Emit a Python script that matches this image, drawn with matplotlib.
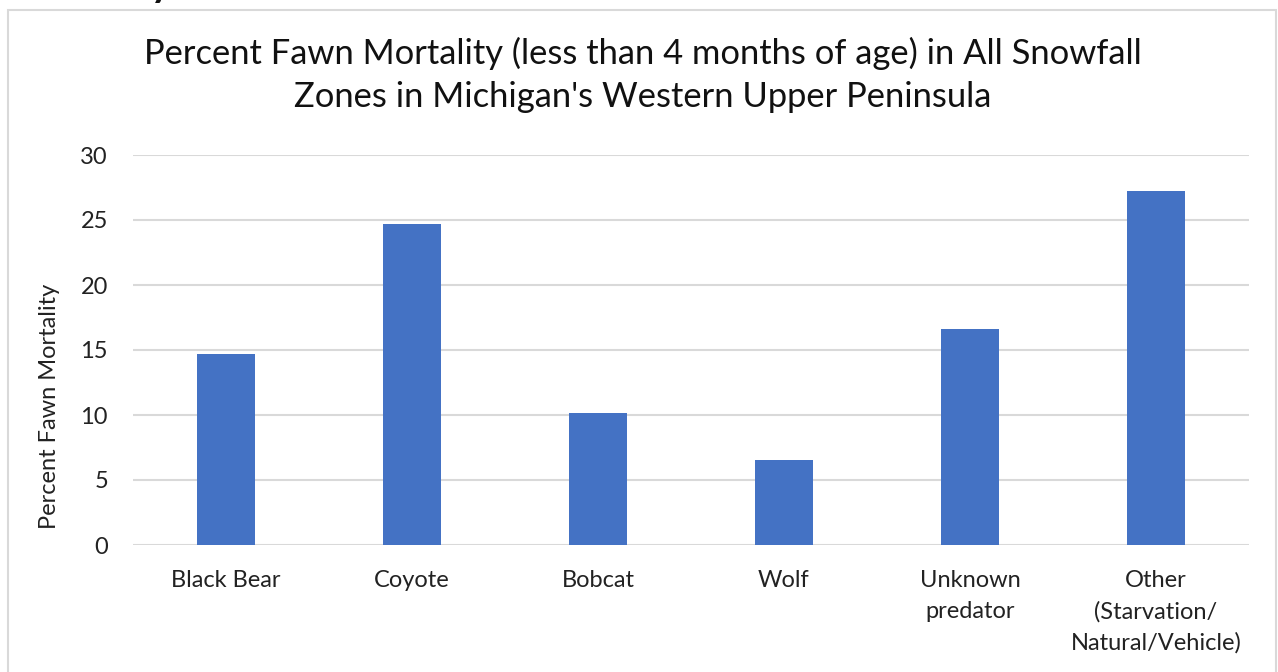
import matplotlib
matplotlib.use("Agg")
import matplotlib.pyplot as plt
from matplotlib.patches import Rectangle

categories = ["Black Bear", "Coyote", "Bobcat", "Wolf", "Unknown\npredator",
              "Other\n(Starvation/\nNatural/Vehicle)"]
values = [14.7, 24.7, 10.15, 6.55, 16.6, 27.2]
yticks = [0, 5, 10, 15, 20, 25, 30]

plt.rcParams['font.family'] = ['Lato', 'DejaVu Sans']

W, H = 1278, 672
fig = plt.figure(figsize=(W / 100, H / 100), dpi=100)

# chart border
fig.patches.append(Rectangle((8 / W, -0.1), (1276 - 8) / W, 1.1 - 10 / H,
                             transform=fig.transFigure, fill=False,
                             edgecolor='#d9d9d9', linewidth=1.5))
# cropped slide heading at top
fig.text(10 / W, 1 + 3 / H, "Mortality", fontsize=28, fontweight='bold',
         color='#111111', ha='left', va='baseline')

ax = fig.add_axes([133 / W, 1 - 545 / H, (1249 - 133) / W, (545 - 155) / H])
x = range(len(categories))
ax.bar(x, values, width=0.317, color='#4472C4', zorder=3)
ax.set_xlim(-0.5, len(categories) - 0.5)
ax.set_ylim(0, 30)
ax.set_yticks(yticks)
ax.set_yticklabels([str(t) for t in yticks], fontsize=17, color='#222222')
ax.set_xticks(list(x))
ax.set_xticklabels(categories, fontsize=17, color='#222222', linespacing=1.56)
ax.tick_params(axis='both', length=0)
ax.tick_params(axis='y', pad=18)
ax.tick_params(axis='x', pad=18)
ax.grid(axis='y', color='#d9d9d9', linewidth=1.5, zorder=0)
for s in ax.spines.values():
    s.set_visible(False)
ax.set_ylabel("Percent Fawn Mortality", fontsize=17, color='#222222')
ax.yaxis.set_label_coords(-73 / (1249 - 133), 0.355)

fig.text(643 / W, 1 - 75 / H,
         "Percent Fawn Mortality (less than 4 months of age) in All Snowfall\nZones in Michigan's Western Upper Peninsula",
         fontsize=24.8, color='#111111', ha='center', va='center', linespacing=1.39)

fig.savefig("out.png", dpi=100, facecolor='white')
